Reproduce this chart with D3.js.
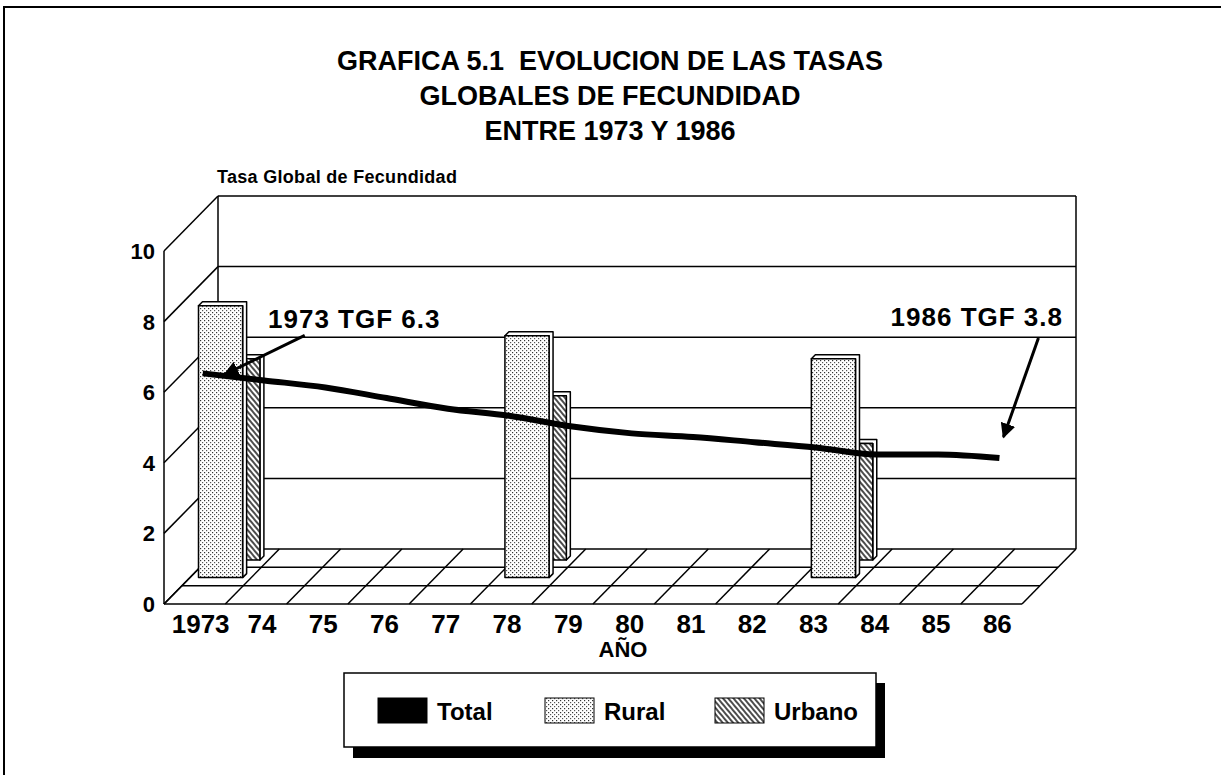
<!DOCTYPE html>
<html>
<head>
<meta charset="utf-8">
<script src="https://cdn.jsdelivr.net/npm/d3@7"></script>
<style>
  body { margin: 0; background: #fff; }
  text { font-family: "Liberation Sans", Arial, sans-serif; font-weight: bold; fill: #000; white-space: pre; }
</style>
</head>
<body>
<script>
// data
let years = ["1973", "74", "75", "76", "77", "78", "79", "80", "81", "82", "83", "84", "85", "86"];
let totalValues = [6.3, 6.1, 5.9, 5.6, 5.3, 5.1, 4.8, 4.6, 4.5, 4.35, 4.2, 4.0, 4.0, 3.9];
let barYears = ["1973", "78", "83"];
let ruralValues = [7.7, 6.85, 6.2];
let urbanoValues = [5.7, 4.65, 3.3];
let yTicks = [0, 2, 4, 6, 8, 10];
let titleLines = ["GRAFICA 5.1  EVOLUCION DE LAS TASAS", "GLOBALES DE FECUNDIDAD", "ENTRE 1973 Y 1986"];

let width = 1221, height = 775;

// front plane of the 3d box
let front = { left: 164, right: 1022, base: 604 };
let depth = { dx: 54, dy: -55 };

let x = d3.scaleBand()
    .domain(years)
    .range([front.left, front.right])
    .paddingInner(0.28)
    .paddingOuter(0.14);

let y = d3.scaleLinear()
    .domain([0, 10])
    .range([0, 353]);

// project a point (front x, value, depth fraction) to the screen
let proj = (xf, v, d) => [xf + depth.dx * d, front.base + depth.dy * d - y(v)];

let svg = d3.select("body").append("svg")
    .attr("width", width)
    .attr("height", height);

// fill patterns
let defs = svg.append("defs");
let dots = defs.append("pattern")
    .attr("id", "dots")
    .attr("width", 4).attr("height", 4)
    .attr("patternUnits", "userSpaceOnUse");
dots.append("rect").attr("width", 4).attr("height", 4).attr("fill", "#fff");
dots.append("rect").attr("x", 0).attr("y", 0).attr("width", 1.2).attr("height", 1.2).attr("fill", "#333");
dots.append("rect").attr("x", 2).attr("y", 2).attr("width", 1.2).attr("height", 1.2).attr("fill", "#555");

let hatch = defs.append("pattern")
    .attr("id", "hatch")
    .attr("width", 4).attr("height", 4)
    .attr("patternUnits", "userSpaceOnUse")
    .attr("patternTransform", "rotate(-40)");
hatch.append("rect").attr("width", 4).attr("height", 4).attr("fill", "#fff");
hatch.append("line").attr("x1", 1).attr("y1", 0).attr("x2", 1).attr("y2", 4)
    .attr("stroke", "#000").attr("stroke-width", 1.4);

// page frame (top and left only)
svg.append("path")
    .attr("d", "M4," + height + "V7H" + width)
    .attr("fill", "none")
    .attr("stroke", "#000")
    .attr("stroke-width", 2);

// title
svg.append("g").selectAll("text")
    .data(titleLines)
    .enter().append("text")
    .attr("x", 610)
    .attr("y", (d, i) => 70 + i * 35)
    .attr("text-anchor", "middle")
    .style("font-size", "27px")
    .text(d => d);

svg.append("text")
    .attr("x", 217)
    .attr("y", 183)
    .style("font-size", "18px")
    .style("letter-spacing", "0.3px")
    .text("Tasa Global de Fecundidad");

let line = d3.line();
let grid = svg.append("g")
    .attr("fill", "none")
    .attr("stroke", "#000")
    .attr("stroke-width", 1.5);

// back wall gridlines
grid.selectAll(".back")
    .data(yTicks)
    .enter().append("path")
    .attr("d", v => line([proj(front.left, v, 1), proj(front.right, v, 1)]));

// left wall diagonals
grid.selectAll(".side")
    .data(yTicks)
    .enter().append("path")
    .attr("d", v => line([proj(front.left, v, 0), proj(front.left, v, 1)]));

// wall edges
grid.append("path").attr("d", line([proj(front.left, 0, 0), proj(front.left, 10, 0)]));
grid.append("path").attr("d", line([proj(front.left, 0, 1), proj(front.left, 10, 1)]));
grid.append("path").attr("d", line([proj(front.right, 0, 1), proj(front.right, 10, 1)]));

// floor: rows in depth and diagonals at each category boundary
grid.selectAll(".row")
    .data([0, 1 / 3, 2 / 3])
    .enter().append("path")
    .attr("d", d => line([proj(front.left, 0, d), proj(front.right, 0, d)]));

grid.selectAll(".col")
    .data(d3.range(years.length + 1))
    .enter().append("path")
    .attr("d", k => {
        let xf = front.left + k * x.step();
        return line([proj(xf, 0, 0), proj(xf, 0, 1)]);
    });

// y tick labels on the front edge
svg.append("g").selectAll("text")
    .data(yTicks)
    .enter().append("text")
    .attr("x", front.left - 9)
    .attr("y", v => proj(front.left, v, 0)[1])
    .attr("dy", "0.36em")
    .attr("text-anchor", "end")
    .style("font-size", "22px")
    .text(d => d);

// x labels
svg.append("g").selectAll("text")
    .data(years)
    .enter().append("text")
    .attr("x", d => x(d) + x.bandwidth() / 2 + 6)
    .attr("y", 633)
    .attr("text-anchor", "middle")
    .style("font-size", "26px")
    .text(d => d);

svg.append("text")
    .attr("x", 623)
    .attr("y", 657)
    .attr("text-anchor", "middle")
    .style("font-size", "22px")
    .text("AÑO");

// bars, drawn back to front
let cap = 4;
function drawBars(values, d, fill) {
    let g = svg.append("g")
        .attr("stroke", "#000")
        .attr("stroke-width", 1.5)
        .attr("stroke-linejoin", "round");
    let bars = g.selectAll("g")
        .data(barYears.map((yr, i) => ({ year: yr, value: values[i] })))
        .enter().append("g");
    let geo = b => {
        let [x0, top] = proj(x(b.year), b.value, d);
        let base = proj(x(b.year), 0, d)[1];
        return { x0: x0, x1: x0 + x.bandwidth(), top: top, base: base };
    };
    bars.append("path")
        .attr("fill", "#fff")
        .attr("d", b => {
            let q = geo(b);
            return line([[q.x1, q.base], [q.x1 + cap, q.base - cap], [q.x1 + cap, q.top - cap],
                [q.x0 + cap, q.top - cap], [q.x0, q.top], [q.x1, q.top]]) + "Z";
        });
    bars.append("rect")
        .attr("fill", fill)
        .attr("x", b => geo(b).x0)
        .attr("y", b => geo(b).top)
        .attr("width", x.bandwidth())
        .attr("height", b => geo(b).base - geo(b).top);
}
drawBars(urbanoValues, 0.8, "url(#hatch)");
drawBars(ruralValues, 0.48, "url(#dots)");

// total line
let totalDepth = 0.15;
let pts = years.map((yr, i) => proj(x(yr) + x.bandwidth() / 2, totalValues[i], totalDepth));
svg.append("path")
    .attr("d", d3.line().curve(d3.curveMonotoneX)(pts))
    .attr("fill", "none")
    .attr("stroke", "#000")
    .attr("stroke-width", 6);

// annotations
defs.append("marker")
    .attr("id", "arrow")
    .attr("viewBox", "0 0 10 10")
    .attr("refX", 9).attr("refY", 5)
    .attr("markerWidth", 5).attr("markerHeight", 5)
    .attr("orient", "auto")
    .append("path")
    .attr("d", "M0,0L10,5L0,10Z")
    .attr("fill", "#000");

let first = pts[0], last = pts[pts.length - 1];
let notes = [
    { text: "1973 TGF 6.3", tx: 268, ty: 328, anchor: "start",
      from: [first[0] + 102, first[1] - 38], to: [first[0] + 22, first[1] + 1] },
    { text: "1986 TGF 3.8", tx: 1063, ty: 326, anchor: "end",
      from: [last[0] + 39, last[1] - 120], to: [last[0] + 4, last[1] - 21] }
];
svg.append("g").selectAll("path")
    .data(notes)
    .enter().append("path")
    .attr("d", n => line([n.from, n.to]))
    .attr("stroke", "#000")
    .attr("stroke-width", 3)
    .attr("marker-end", "url(#arrow)");
svg.append("g").selectAll("text")
    .data(notes)
    .enter().append("text")
    .attr("x", n => n.tx)
    .attr("y", n => n.ty)
    .attr("text-anchor", n => n.anchor)
    .style("font-size", "26px")
    .style("letter-spacing", "1px")
    .text(n => n.text);

// legend
let legend = svg.append("g");
legend.append("rect")
    .attr("x", 353).attr("y", 683)
    .attr("width", 532).attr("height", 75)
    .attr("fill", "#000");
legend.append("rect")
    .attr("x", 344).attr("y", 673)
    .attr("width", 532).attr("height", 74)
    .attr("fill", "#fff")
    .attr("stroke", "#000")
    .attr("stroke-width", 1.5);

let legendItems = [
    { name: "Total", fill: "#000", x: 378 },
    { name: "Rural", fill: "url(#dots)", x: 545 },
    { name: "Urbano", fill: "url(#hatch)", x: 715 }
];
let li = legend.selectAll(".item")
    .data(legendItems)
    .enter().append("g");
li.append("rect")
    .attr("x", d => d.x).attr("y", 698)
    .attr("width", 49).attr("height", 25)
    .attr("fill", d => d.fill)
    .attr("stroke", "#000")
    .attr("stroke-width", 1);
li.append("text")
    .attr("x", d => d.x + 59)
    .attr("y", 711)
    .attr("dy", "0.36em")
    .style("font-size", "24px")
    .text(d => d.name);
</script>
</body>
</html>
